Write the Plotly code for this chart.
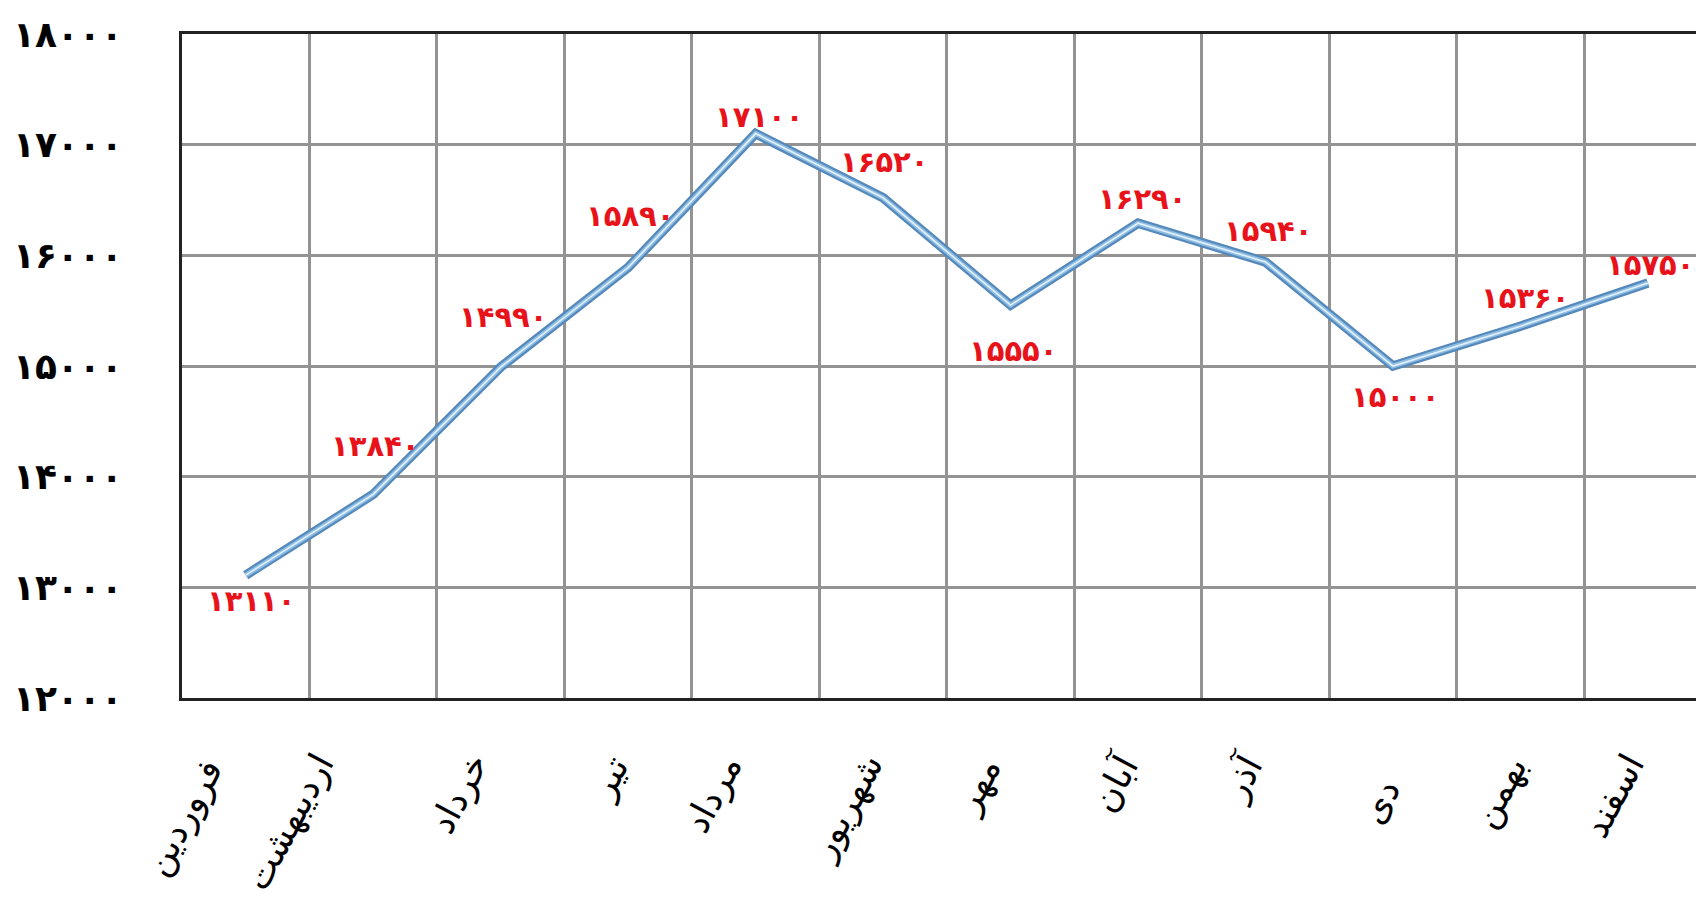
import plotly.graph_objects as go

months = ["فروردین", "اردیبهشت", "خرداد", "تیر", "مرداد", "شهریور",
          "مهر", "آبان", "آذر", "دی", "بهمن", "اسفند"]
values = [13110, 13840, 14990, 15890, 17100, 16520, 15550, 16290, 15940, 15000, 15360, 15750]
y_ticks = [12000, 13000, 14000, 15000, 16000, 17000, 18000]

# label offsets (pixels) relative to each point
label_dx = [6, 2, 3, 2, 4, 1, 3, 4, 3, 3, 5, 3]
label_dy = [-26, 48, 50, 52, 17, 36, -46, 24, 31, -31, 28, 18]
# month label offsets (pixels)
month_dx = [-12, -28, -1, 12, -2, 12, 2, 12, 9, 18, 18, 7]
month_dy = [-52, -46, -46, -48, -48, -46, -50, -46, -46, -72, -48, -46]

FA = str.maketrans("0123456789", "۰۱۲۳۴۵۶۷۸۹")
def fa(n):
    return str(n).translate(FA)

fig = go.Figure()
for color, width in [("#5589bb", 9.5), ("#8dbde2", 5), ("#e4f1fb", 1.6)]:
    fig.add_trace(go.Scatter(x=months, y=values, mode="lines",
                             line=dict(color=color, width=width), hoverinfo="skip"))

for i, (m, v) in enumerate(zip(months, values)):
    fig.add_annotation(x=m, y=v, text=fa(v), showarrow=False,
                       xshift=label_dx[i], yshift=label_dy[i],
                       font=dict(family="DejaVu Sans", size=29, color="#e8121a", weight="bold"))

# rotated month labels
for i, m in enumerate(months):
    fig.add_annotation(x=m, y=0, yref="paper", text=m, showarrow=False,
                       textangle=-62, xanchor="right", yanchor="top",
                       xshift=month_dx[i], yshift=month_dy[i],
                       font=dict(family="DejaVu Sans", size=36, color="black"))

fig.update_layout(
    width=1696, height=901,
    margin=dict(l=174, r=0, t=26, b=211),
    paper_bgcolor="white", plot_bgcolor="white",
    showlegend=False,
)
fig.update_xaxes(
    type="category", range=[-0.5, 11.44], tickson="boundaries", automargin=False,
    showgrid=True, gridcolor="#939393", gridwidth=2.5,
    showline=True, linecolor="#222222", linewidth=3, mirror=True,
    ticks="", showticklabels=False,
)
fig.update_yaxes(
    range=[12000, 18000], tickvals=y_ticks, ticktext=[fa(t) for t in y_ticks],
    automargin=False,
    showgrid=True, gridcolor="#939393", gridwidth=2.5,
    showline=True, linecolor="#222222", linewidth=3, mirror=False,
    ticks="", ticklabelstandoff=49, zeroline=False,
    tickfont=dict(family="DejaVu Sans", size=36, color="black", weight="bold"),
)

fig.write_html("out.html")
